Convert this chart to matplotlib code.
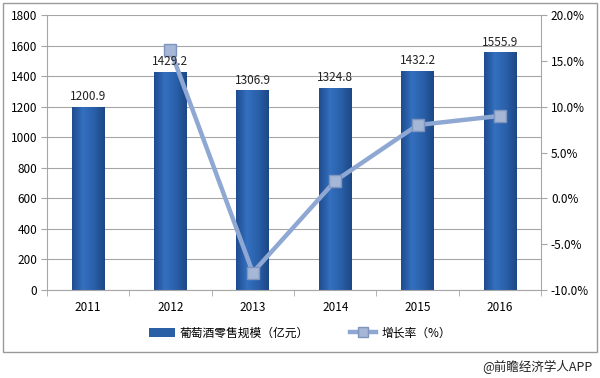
import numpy as np
import matplotlib.pyplot as plt
from matplotlib.patches import Rectangle
from matplotlib.lines import Line2D
from matplotlib.patches import Patch
from matplotlib.colors import LinearSegmentedColormap

plt.rcParams['font.family'] = ['Noto Sans CJK SC', 'DejaVu Sans']

years = ['2011', '2012', '2013', '2014', '2015', '2016']
sales = [1200.9, 1429.2, 1306.9, 1324.8, 1432.2, 1555.9]
growth_years = ['2012', '2013', '2014', '2015', '2016']
growth = [16.2, -8.1, 1.9, 8.0, 9.0]

bar_color = '#2B5FA6'
line_color = '#8FA8D3'
grid_color = '#A6A6A6'

fig = plt.figure(figsize=(6, 3.78), dpi=100)
# outer frame
fig.patches.append(Rectangle((3 / 600, 1 - 352 / 378), 594 / 600, 349 / 378,
                             transform=fig.transFigure, fill=False,
                             edgecolor='#9A9A9A', linewidth=1))

ax = fig.add_axes([0.078, 0.233, 0.824, 0.727])
x = np.arange(len(years))
bars = ax.bar(x, sales, width=0.4, color=bar_color, zorder=2)

# horizontal gradient inside each bar
grad = LinearSegmentedColormap.from_list('g', ['#1F4C90', '#3470BF', '#2A60AA', '#1D4886'])
g = np.linspace(0, 1, 64).reshape(1, -1)
for b in bars:
    im = ax.imshow(g, cmap=grad, aspect='auto', zorder=2.1,
                   extent=[b.get_x(), b.get_x() + b.get_width(), 0, b.get_height()])
    im.set_clip_path(b)

ax.set_ylim(0, 1800)
ax.set_yticks(range(0, 1801, 200))
ax.set_xlim(-0.5, len(years) - 0.5)
ax.set_xticks(x)
ax.set_xticklabels(years)
ax.set_xticks(np.arange(-0.5, len(years)), minor=True)
ax.tick_params(axis='x', which='major', length=0, pad=8, labelsize=8.5)
ax.tick_params(axis='x', which='minor', length=4, color=grid_color)
ax.tick_params(axis='y', length=4, color=grid_color, labelsize=8.5, pad=3)
ax.grid(axis='y', color=grid_color, linewidth=0.8, zorder=0)
ax.set_axisbelow(True)
for s in ['top', 'right']:
    ax.spines[s].set_visible(False)
for s in ['left', 'bottom']:
    ax.spines[s].set_color(grid_color)

ax2 = ax.twinx()
gx = [years.index(y) for y in growth_years]
ax2.plot(gx, growth, color=line_color, linewidth=3.2, marker='s', markersize=9,
         markerfacecolor='#A5B6D6', markeredgecolor='#7F95BE', markeredgewidth=1, zorder=3)
ax2.set_ylim(-10, 20)
ax2.set_yticks(np.arange(-10, 20.1, 5))
ax2.set_yticklabels([f'{v:.1f}%' for v in np.arange(-10, 20.1, 5)])
ax2.tick_params(axis='y', length=4, color=grid_color, labelsize=8.5, pad=3)
for s in ['top', 'left', 'bottom']:
    ax2.spines[s].set_visible(False)
ax2.spines['right'].set_color(grid_color)

# value labels on top of everything
for xi, v in zip(x, sales):
    ax2.text(xi, v + 25, f'{v:.1f}', transform=ax.transData, ha='center', va='bottom',
             fontsize=8.5, color='#222222', zorder=5)

handles = [Patch(facecolor=bar_color, label='葡萄酒零售规模（亿元）'),
           Line2D([0], [0], color=line_color, linewidth=3.2, marker='s', markersize=7,
                  markerfacecolor='#A5B6D6', markeredgecolor='#7F95BE', label='增长率（%）')]
fig.legend(handles=handles, loc='center', bbox_to_anchor=(0.5, 1 - 333 / 378), ncol=2,
           frameon=False, fontsize=8.5, handlelength=2.2, handletextpad=0.4,
           columnspacing=3.5)

fig.text(0.988, 1 - 367 / 378, '@前瞻经济学人APP', ha='right', va='center',
         fontsize=9, color='#222222')

fig.savefig('out.png', dpi=100)
